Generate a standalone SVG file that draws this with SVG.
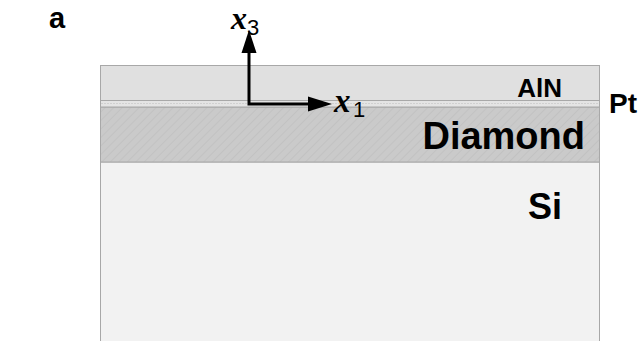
<svg xmlns="http://www.w3.org/2000/svg" width="641" height="341" viewBox="0 0 641 341">
<defs>
<style>
.lbl{font-family:"Liberation Sans",Arial,sans-serif;font-weight:bold;fill:#000}
.ax{font-family:"Liberation Serif","Times New Roman",serif;font-style:italic;font-weight:bold;fill:#000}
.sub{font-family:"Liberation Sans",Arial,sans-serif;fill:#000}
.layer{stroke:#a8a8a8;stroke-width:1}
.axis{stroke:#000;stroke-width:3;fill:none}
</style>
<pattern id="hatch" width="6" height="6" patternUnits="userSpaceOnUse" patternTransform="rotate(45)">
<rect width="6" height="6" fill="#cacaca"/>
<line x1="0" y1="0" x2="0" y2="6" stroke="#c2c2c2" stroke-width="2"/>
</pattern>
</defs>
<rect width="641" height="341" fill="#fff"/>
<g id="si">
<rect class="layer" x="100.5" y="162" width="499" height="190" fill="#f2f2f2"/>
<text class="lbl" x="562" y="219" font-size="36" text-anchor="end">Si</text>
</g>
<g id="diamond">
<rect class="layer" x="100.5" y="107" width="499" height="55" fill="url(#hatch)"/>
<text class="lbl" x="585" y="149" font-size="38" text-anchor="end">Diamond</text>
</g>
<g id="aln">
<rect class="layer" x="100.5" y="65.5" width="499" height="35" fill="#e0e0e0"/>
<text class="lbl" x="562" y="97" font-size="26" text-anchor="end">AlN</text>
</g>
<g id="pt">
<rect class="layer" x="100.5" y="100.5" width="499" height="6.5" fill="#e4e4e4"/>
<line x1="101" y1="103.5" x2="599" y2="103.5" stroke="#d0d0d0" stroke-width="1" stroke-dasharray="2,1"/>
<text class="lbl" x="609" y="113" font-size="28">Pt</text>
</g>
<g id="a">
<text class="lbl" x="49" y="28" font-size="29">a</text>
</g>
<g id="connectors">
<polyline class="axis" points="249,52 249,104 310,104"/>
<polygon points="249,30 241.5,53 256.5,53" fill="#000"/>
<polygon points="332,104 308,96.5 308,111.5" fill="#000"/>
</g>
<g id="axis-labels">
<text class="ax" x="231" y="29" font-size="32">x</text>
<text class="sub" x="247" y="35" font-size="22">3</text>
<text class="ax" x="334" y="112" font-size="33">x</text>
<text class="sub" x="353" y="117" font-size="22">1</text>
</g>
</svg>
